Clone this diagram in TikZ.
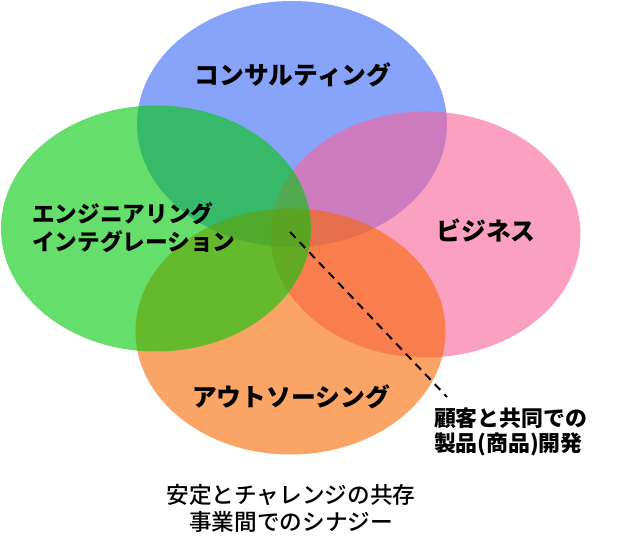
\documentclass[tikz,border=0pt]{standalone}
\usepackage{fontspec}
\usepackage{tikz}
\usetikzlibrary{positioning, calc, shapes.geometric}
\newfontfamily\jpfont{Noto Sans CJK JP}
\newfontfamily\jpmedfont{Noto Sans CJK JP Medium}
\definecolor{Syn_Blue}{RGB}{55,102,247}
\definecolor{Syn_Green}{RGB}{0,200,8}
\definecolor{Syn_Pink}{RGB}{250,97,152}
\definecolor{Syn_Orange}{RGB}{247,103,0}

\begin{document}
\begin{tikzpicture}[
  x=0.75pt, y=-0.75pt,
  every node/.style={inner sep=0pt, outer sep=0pt, text=black},
  venn/.style={ellipse, draw=none, fill opacity=0.6, minimum width=232.5pt, minimum height=184.5pt},
  biglbl/.style={font=\jpfont\bfseries\fontsize{18.6pt}{22pt}\selectfont},
  midlbl/.style={font=\jpfont\bfseries\fontsize{17pt}{21pt}\selectfont, align=left, anchor=west},
  notelbl/.style={font=\jpfont\bfseries\fontsize{16.4pt}{18.8pt}\selectfont, align=left, anchor=west},
  foot/.style={font=\jpmedfont\fontsize{17pt}{20.3pt}\selectfont, align=center},
  lead/.style={dashed, dash pattern=on 6pt off 4.5pt, line width=1.5pt}
]
  \useasboundingbox (0,0) rectangle (618,555);

  % Circles (drawing order sets the blend)
  \node[venn, fill=Syn_Blue] (consult) at (292,124) {};
  \node[venn, fill=Syn_Pink] (biz) at (425.5,234.5) {};
  \node[venn, fill=Syn_Orange] (outsrc) at (290.5,331.5) {};
  \node[venn, fill=Syn_Green] (engint) at (156,228.5) {};

  % Labels
  \node[biglbl] (consultlbl) at (293,75) {コンサルティング};
  \node[biglbl] (bizlbl) at (486,230.5) {ビジネス};
  \node[biglbl] (outsrclbl) at (291,397) {アウトソーシング};
  \node[midlbl] (engintlbl) at (32,228) {エンジニアリング\\インテグレーション};

  % Co-creation note
  \coordinate (core) at (290,232);
  \coordinate (tip) at (447,397);
  \node[notelbl] (cocreate) at (434,431.5) {顧客と共同での\\製品(商品)開発};
  \draw[lead] (core) -- (tip);

  % Bottom caption
  \node[foot] (synergy) at (291,508.5) {安定とチャレンジの共存\\事業間でのシナジー};
\end{tikzpicture}
\end{document}
